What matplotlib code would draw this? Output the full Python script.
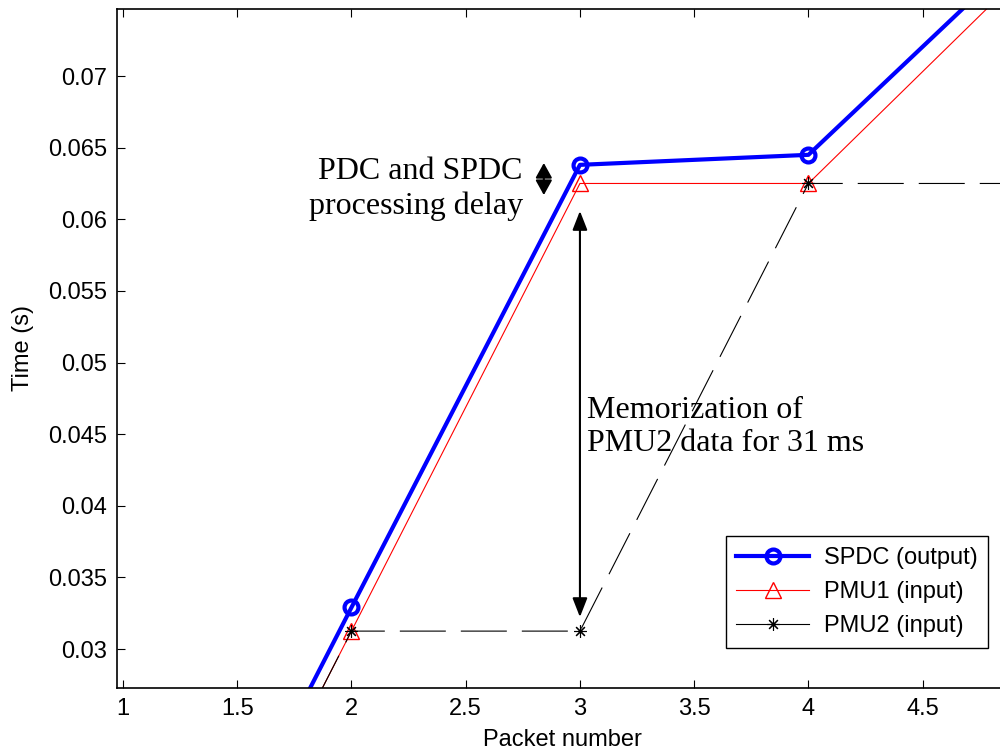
import matplotlib
matplotlib.use("Agg")
import matplotlib.pyplot as plt
from matplotlib.ticker import FuncFormatter, MultipleLocator

# packet numbers and arrival/output times (s)
packets = [1, 2, 3, 4, 5]
spdc_out = [0.0018, 0.0329, 0.0638, 0.0645, 0.0796]
pmu1_in = [0.0, 0.03125, 0.0625, 0.0625, 0.078125]
pmu2_in = [0.0, 0.03125, 0.03125, 0.0625, 0.0625]

labels = ["SPDC (output)", "PMU1 (input)", "PMU2 (input)"]

sans = ["Liberation Sans", "DejaVu Sans"]
serif = ["Liberation Serif", "DejaVu Serif"]
plt.rcParams['font.family'] = sans

fig = plt.figure(figsize=(10, 7.5), dpi=100)
ax = fig.add_axes([0.117, 0.0827, 0.89, 0.9053])

ax.plot(packets, spdc_out, color="#0000ff", lw=3, marker="o", ms=10,
        mfc="none", mew=3, label=labels[0])
ax.plot(packets, pmu1_in, color="#ff0000", lw=0.8, marker="^", ms=12,
        mfc="none", mew=1, label=labels[1])
ax.plot(packets, pmu2_in, color="black", lw=0.8, marker=(8, 2, 0), ms=9,
        mew=0.8, dashes=[41.4, 13.5], label=labels[2])

ax.set_xlim(0.974, 4.869)
ax.set_ylim(0.02728, 0.07468)
ax.xaxis.set_major_locator(MultipleLocator(0.5))
ax.yaxis.set_major_locator(MultipleLocator(0.005))
fmt = FuncFormatter(lambda v, p: "%g" % round(v, 4))
ax.xaxis.set_major_formatter(fmt)
ax.yaxis.set_major_formatter(fmt)
ax.tick_params(direction="in", length=6, width=0.8, labelsize=17,
               top=True, right=False, pad=7)
for s in ax.spines.values():
    s.set_linewidth(1.2)

ax.set_xlabel("Packet number", fontsize=17, labelpad=7)
ax.set_ylabel("Time (s)", fontsize=17, labelpad=10)

# annotations
ax.annotate("", xy=(3, 0.06058), xytext=(3, 0.03223),
            arrowprops=dict(arrowstyle="<|-|>,head_length=1.15,head_width=0.45",
                            mutation_scale=10, lw=1.5, color="black",
                            shrinkA=0, shrinkB=0))
ax.annotate("", xy=(2.842, 0.06393), xytext=(2.842, 0.06169),
            arrowprops=dict(arrowstyle="<|-|>,head_length=0.9,head_width=0.5",
                            mutation_scale=10, lw=1.5, color="black",
                            shrinkA=0, shrinkB=0))
ax.text(2.7505, 0.0621, "PDC and SPDC\nprocessing delay", ha="right",
        va="center", fontsize=23, family=serif, linespacing=1.22,
        multialignment="right")
ax.text(3.0306, 0.0455, "Memorization of\nPMU2 data for 31 ms", ha="left",
        va="center", fontsize=23, family=serif, linespacing=1.22)

leg = ax.legend(loc="lower right", bbox_to_anchor=(0.988, 1 - 648 / 750),
                bbox_transform=fig.transFigure, borderaxespad=0,
                fontsize=17, handlelength=3.1, handletextpad=0.6,
                labelspacing=0.52, borderpad=0.45, fancybox=False,
                framealpha=1, edgecolor="black")
leg.get_frame().set_linewidth(1.0)
leg.get_lines()[2].set_linestyle("-")

fig.savefig("out.png", dpi=100)
